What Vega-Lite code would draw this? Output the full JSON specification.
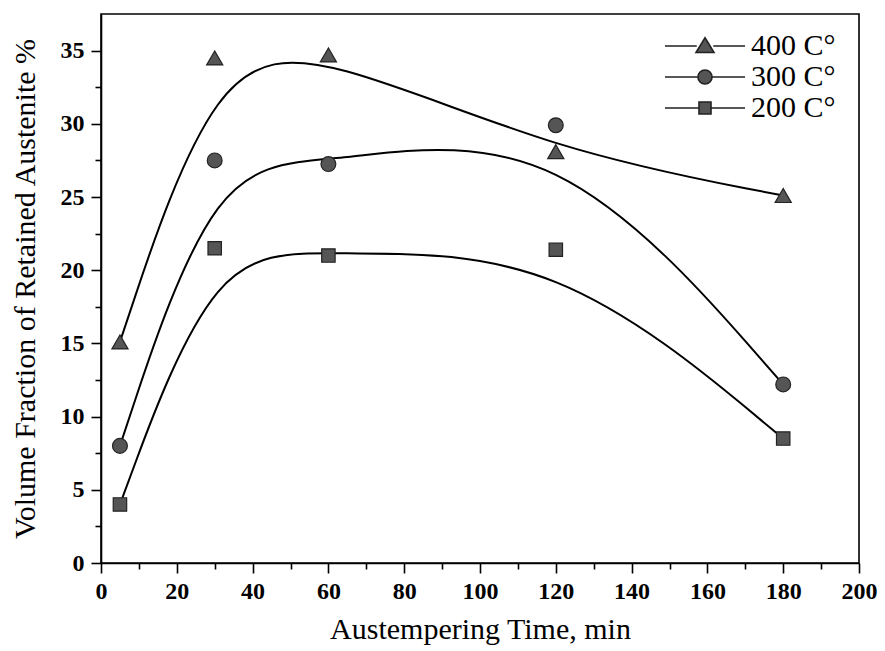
{
  "$schema": "https://vega.github.io/schema/vega-lite/v6.json",
  "width": 758,
  "height": 549,
  "autosize": {"type": "none"},
  "padding": {"left": 101, "top": 14, "right": 26, "bottom": 88},
  "background": "white",
  "config": {
    "view": {"stroke": "black", "strokeWidth": 1.6},
    "font": "Liberation Serif",
    "axis": {
      "domain": true,
      "domainColor": "black",
      "domainWidth": 1.6,
      "tickColor": "black",
      "tickWidth": 1.6,
      "grid": false,
      "labelColor": "black",
      "titleColor": "black",
      "labelFont": "Liberation Serif",
      "titleFont": "Liberation Serif",
      "titleFontWeight": "normal",
      "labelFontWeight": "bold",
      "labelFontSize": 24,
      "titleFontSize": 30
    },
    "legend": {
      "labelFont": "Liberation Serif",
      "labelFontSize": 30,
      "labelColor": "black"
    }
  },
  "data": {
    "values": [
      {"time": 5, "ra": 15.1, "series": "400 C°"},
      {"time": 30, "ra": 34.5, "series": "400 C°"},
      {"time": 60, "ra": 34.7, "series": "400 C°"},
      {"time": 120, "ra": 28.1, "series": "400 C°"},
      {"time": 180, "ra": 25.1, "series": "400 C°"},
      {"time": 5, "ra": 8.0, "series": "300 C°"},
      {"time": 30, "ra": 27.5, "series": "300 C°"},
      {"time": 60, "ra": 27.25, "series": "300 C°"},
      {"time": 120, "ra": 29.9, "series": "300 C°"},
      {"time": 180, "ra": 12.2, "series": "300 C°"},
      {"time": 5, "ra": 4.0, "series": "200 C°"},
      {"time": 30, "ra": 21.5, "series": "200 C°"},
      {"time": 60, "ra": 21.0, "series": "200 C°"},
      {"time": 120, "ra": 21.4, "series": "200 C°"},
      {"time": 180, "ra": 8.5, "series": "200 C°"}
    ]
  },
  "resolve": {"scale": {"shape": "independent", "size": "independent"}, "axis": {"x": "independent", "y": "independent"}},
  "layer": [
    {
      "mark": {"type": "line", "interpolate": "basis", "color": "black", "strokeWidth": 2},
      "encoding": {
        "x": {
          "field": "time", "type": "quantitative",
          "scale": {"domain": [0, 200], "nice": false},
          "axis": {"orient": "bottom", "values": [0, 20, 40, 60, 80, 100, 120, 140, 160, 180, 200], "tickSize": 10, "labelPadding": 6, "labelFont": "Liberation Serif", "labelFontWeight": "bold", "labelFontSize": 24, "title": "Austempering Time, min", "titleFont": "Liberation Serif", "titlePadding": 11, "labelFlush": false, "labelOverlap": false}
        },
        "y": {
          "field": "ra", "type": "quantitative",
          "scale": {"domain": [0, 37.5], "nice": false, "zero": true},
          "axis": {"orient": "left", "values": [0, 5, 10, 15, 20, 25, 30, 35], "tickSize": 10, "labelPadding": 7, "labelFont": "Liberation Serif", "labelFontWeight": "bold", "labelFontSize": 24, "title": "Volume Fraction of Retained Austenite %", "titleFont": "Liberation Serif", "titlePadding": 20, "labelFlush": false, "labelOverlap": false}
        },
        "detail": {"field": "series"}
      }
    },
    {
      "mark": {"type": "point", "filled": true, "fill": "#555555", "stroke": "#222222", "strokeWidth": 1.2, "opacity": 1},
      "encoding": {
        "x": {
          "field": "time", "type": "quantitative",
          "scale": {"domain": [0, 200], "nice": false},
          "axis": {"orient": "bottom", "values": [10, 30, 50, 70, 90, 110, 130, 150, 170, 190], "tickSize": 6, "labels": false, "domain": false, "title": null}
        },
        "y": {
          "field": "ra", "type": "quantitative",
          "scale": {"domain": [0, 37.5], "nice": false},
          "axis": {"orient": "left", "values": [2.5, 7.5, 12.5, 17.5, 22.5, 27.5, 32.5], "tickSize": 6, "labels": false, "domain": false, "title": null}
        },
        "shape": {
          "field": "series", "type": "nominal",
          "scale": {"domain": ["400 C°", "300 C°", "200 C°"], "range": ["triangle-up", "circle", "square"]},
          "legend": null
        },
        "size": {
          "field": "series", "type": "nominal",
          "scale": {"domain": ["400 C°", "300 C°", "200 C°"], "range": [260, 180, 150]},
          "legend": null
        }
      }
    },
    {
      "mark": {"type": "point", "filled": true, "fill": "#555555", "stroke": "#222222", "opacity": 0},
      "encoding": {
        "x": {"field": "time", "type": "quantitative", "scale": {"domain": [0, 200], "nice": false}, "axis": null},
        "y": {"field": "ra", "type": "quantitative", "scale": {"domain": [0, 37.5], "nice": false}, "axis": null},
        "shape": {
          "field": "series", "type": "nominal",
          "scale": {
            "domain": ["400 C°", "300 C°", "200 C°"],
            "range": [
              "M-2.67,0H-0.55M0.55,0H2.67M0,-0.55L0.6,0.43H-0.6Z",
              "M-2.67,0H-0.47M0.47,0H2.67M-0.47,0A0.47,0.47,0,1,0,0.47,0A0.47,0.47,0,1,0,-0.47,0Z",
              "M-2.67,0H-0.4M0.4,0H2.67M-0.4,-0.4H0.4V0.4H-0.4Z"
            ]
          },
          "legend": {
            "title": null,
            "orient": "none",
            "legendX": 588,
            "legendY": 16,
            "symbolSize": 900,
            "symbolStrokeWidth": 1.6,
            "labelOffset": 30,
            "rowPadding": -1,
            "padding": 0,
            "encode": {
              "symbols": {"update": {"opacity": {"value": 1}, "fill": {"value": "#555555"}, "stroke": {"value": "#222222"}, "strokeWidth": {"value": 1.6}}}
            }
          }
        }
      }
    }
  ]
}
